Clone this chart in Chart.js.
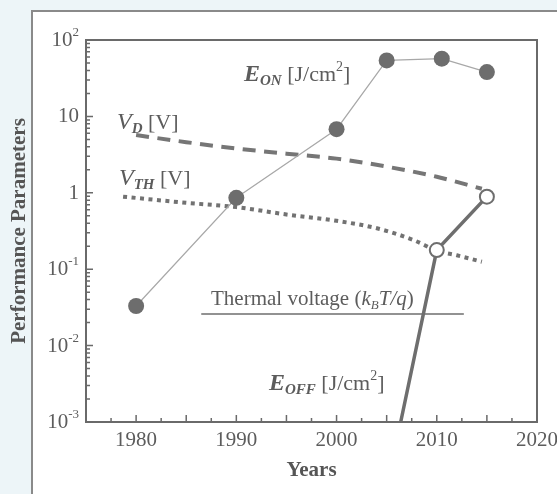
<!DOCTYPE html>
<html>
<head>
<meta charset="utf-8">
<script src="https://cdn.jsdelivr.net/npm/chart.js@4"></script>
<style>
  html, body { margin: 0; padding: 0; background: #edf5f8; }
  #wrap { position: relative; width: 557px; height: 494px; overflow: hidden; }
  #frame { position: absolute; left: 31px; top: 10px; width: 560px; height: 520px;
           background: #fff; border-left: 2px solid #8a8a8a; border-top: 2px solid #8a8a8a; }
  canvas { position: absolute; left: 0; top: 0; }
</style>
</head>
<body>
<div id="wrap">
  <div id="frame"></div>
  <canvas id="perfChart" width="557" height="494"></canvas>
</div>
<script>
// E_ON, filled circles
const eOnYears = [1980, 1990, 2000, 2005, 2010.5, 2015];
const eOnValues = [0.033, 0.86, 6.8, 54, 57, 38];
// V_D, dashed curve
const vdYears = [1980, 1985, 1990, 1995, 2000, 2005, 2010, 2014.5];
const vdValues = [5.7, 4.6, 3.8, 3.25, 2.8, 2.2, 1.62, 1.13];
// V_TH, dotted curve
const vthYears = [1978.7, 1985, 1990, 1995, 2000, 2004.3, 2007.7, 2010, 2012, 2014.5];
const vthValues = [0.89, 0.74, 0.65, 0.52, 0.43, 0.336, 0.24, 0.175, 0.152, 0.125];
// E_OFF, open circles
const eOffYears = [2006.4, 2010, 2015];
const eOffValues = [0.001, 0.178, 0.89];
// thermal voltage kT/q
const thermalYears = [1986.5, 2012.7];
const thermalValues = [0.026, 0.026];

const xTickLabels = [1980, 1990, 2000, 2010, 2020];
const yTickValues = [100, 10, 1, 0.1, 0.01, 0.001];
const yTickBase = ['10', '10', '1', '10', '10', '10'];
const yTickExp = ['2', '', '', '-1', '-2', '-3'];

const SERIF = "'Liberation Serif', 'Times New Roman', serif";
const TEXT = '#5c5c5c';

function pts(xs, ys) {
    return xs.map((x, i) => ({ x: x, y: ys[i] }));
}

// writes a line of text made of parts [text, font, dy]
function drawRich(ctx, x, y, parts, align) {
    let w = 0;
    parts.forEach(p => { ctx.font = p[1]; w += ctx.measureText(p[0]).width; });
    let cx = align === 'right' ? x - w : (align === 'center' ? x - w / 2 : x);
    parts.forEach(p => {
        ctx.font = p[1];
        ctx.fillText(p[0], cx, y + (p[2] || 0));
        cx += ctx.measureText(p[0]).width;
    });
}

const axesPlugin = {
    id: 'axesPlugin',
    afterDatasetsDraw(chart) {
        const ctx = chart.ctx;
        const a = chart.chartArea;
        const xs = chart.scales.x;
        const ys = chart.scales.y;
        ctx.save();

        // box
        ctx.strokeStyle = '#6a6a6a';
        ctx.lineWidth = 2;
        ctx.strokeRect(a.left, a.top, a.right - a.left, a.bottom - a.top);

        // x ticks every 2.5 years, inward
        ctx.lineWidth = 1.5;
        ctx.beginPath();
        for (let yr = 1977.5; yr < 2020; yr += 2.5) {
            const px = xs.getPixelForValue(yr);
            const len = (yr % 5 === 0) ? 7 : 4;
            ctx.moveTo(px, a.bottom);
            ctx.lineTo(px, a.bottom - len);
        }
        // y ticks, log minor
        for (let e = -3; e < 2; e++) {
            for (let m = 1; m < 10; m++) {
                const v = m * Math.pow(10, e);
                const py = ys.getPixelForValue(v);
                const len = m === 1 ? 7 : 4;
                ctx.moveTo(a.left, py);
                ctx.lineTo(a.left + len, py);
            }
        }
        ctx.stroke();

        // tick labels
        ctx.fillStyle = TEXT;
        ctx.textBaseline = 'alphabetic';
        ctx.font = '21px ' + SERIF;
        ctx.textAlign = 'center';
        xTickLabels.forEach(v => {
            ctx.fillText(String(v), xs.getPixelForValue(v), a.bottom + 24);
        });
        ctx.textAlign = 'left';
        yTickValues.forEach((v, i) => {
            const py = ys.getPixelForValue(v) + 6;
            drawRich(ctx, 79, py, [
                [yTickBase[i], '21px ' + SERIF, 0],
                [yTickExp[i], '13px ' + SERIF, -10]
            ], 'right');
        });

        // axis titles
        ctx.fillStyle = '#555';
        ctx.font = 'bold 21px ' + SERIF;
        ctx.textAlign = 'center';
        ctx.fillText('Years', (a.left + a.right) / 2, 476);
        ctx.save();
        ctx.translate(25, (a.top + a.bottom) / 2);
        ctx.rotate(-Math.PI / 2);
        ctx.fillText('Performance Parameters', 0, 0);
        ctx.restore();

        // series labels
        ctx.textAlign = 'left';
        ctx.fillStyle = TEXT;
        const big = '22px ' + SERIF;
        const small = '14px ' + SERIF;
        const eFont = 'italic bold 24px ' + SERIF;
        const vFont = 'italic 24px ' + SERIF;
        const subFont = 'italic bold 15px ' + SERIF;
        drawRich(ctx, 244, 81, [
            ['E', eFont], ['ON', subFont, 4],
            [' [J/cm', big], ['2', small, -10], [']', big]
        ]);
        drawRich(ctx, 117, 129, [
            ['V', vFont], ['D', subFont, 4], [' [V]', big]
        ]);
        drawRich(ctx, 119, 185, [
            ['V', vFont], ['TH', subFont, 4], [' [V]', big]
        ]);
        drawRich(ctx, 211, 305, [
            ['Thermal voltage (', '21px ' + SERIF], ['k', 'italic 21px ' + SERIF], ['B', 'italic 13px ' + SERIF, 4],
            ['T/q', 'italic 21px ' + SERIF], [')', '21px ' + SERIF]
        ]);
        drawRich(ctx, 269, 390, [
            ['E', eFont], ['OFF', subFont, 4],
            [' [J/cm', big], ['2', small, -10], [']', big]
        ]);
        ctx.restore();
    }
};

const ctx = document.getElementById('perfChart');
new Chart(ctx, {
    type: 'line',
    data: {
        datasets: [
            {
                label: 'E_ON',
                data: pts(eOnYears, eOnValues),
                borderColor: '#a8a8a8',
                borderWidth: 1.2,
                pointRadius: 8,
                pointBackgroundColor: '#6d6d6d',
                pointBorderColor: '#6d6d6d',
                pointBorderWidth: 0,
                order: 0
            },
            {
                label: 'E_OFF',
                data: pts(eOffYears, eOffValues),
                borderColor: '#6e6e6e',
                borderWidth: 3.5,
                pointRadius: [0, 7, 7],
                pointBackgroundColor: '#ffffff',
                pointBorderColor: '#6e6e6e',
                pointBorderWidth: 2,
                order: 1
            },
            {
                label: 'V_TH',
                data: pts(vthYears, vthValues),
                borderColor: '#727272',
                borderWidth: 4,
                borderDash: [4, 4.5],
                pointRadius: 0,
                cubicInterpolationMode: 'monotone',
                order: 2
            },
            {
                label: 'V_D',
                data: pts(vdYears, vdValues),
                borderColor: '#767676',
                borderWidth: 4,
                borderDash: [13, 8.5],
                pointRadius: 0,
                cubicInterpolationMode: 'monotone',
                order: 3
            },
            {
                label: 'kT/q',
                data: pts(thermalYears, thermalValues),
                borderColor: '#6e6e6e',
                borderWidth: 1.5,
                pointRadius: 0,
                order: 4
            }
        ]
    },
    options: {
        responsive: false,
        animation: false,
        devicePixelRatio: 1,
        layout: { padding: { left: 86, right: 20, top: 40, bottom: 72 } },
        plugins: {
            legend: { display: false },
            tooltip: { enabled: false }
        },
        scales: {
            x: { type: 'linear', min: 1975, max: 2020, display: false },
            y: { type: 'logarithmic', min: 0.001, max: 100, display: false }
        }
    },
    plugins: [axesPlugin]
});
</script>
</body>
</html>
